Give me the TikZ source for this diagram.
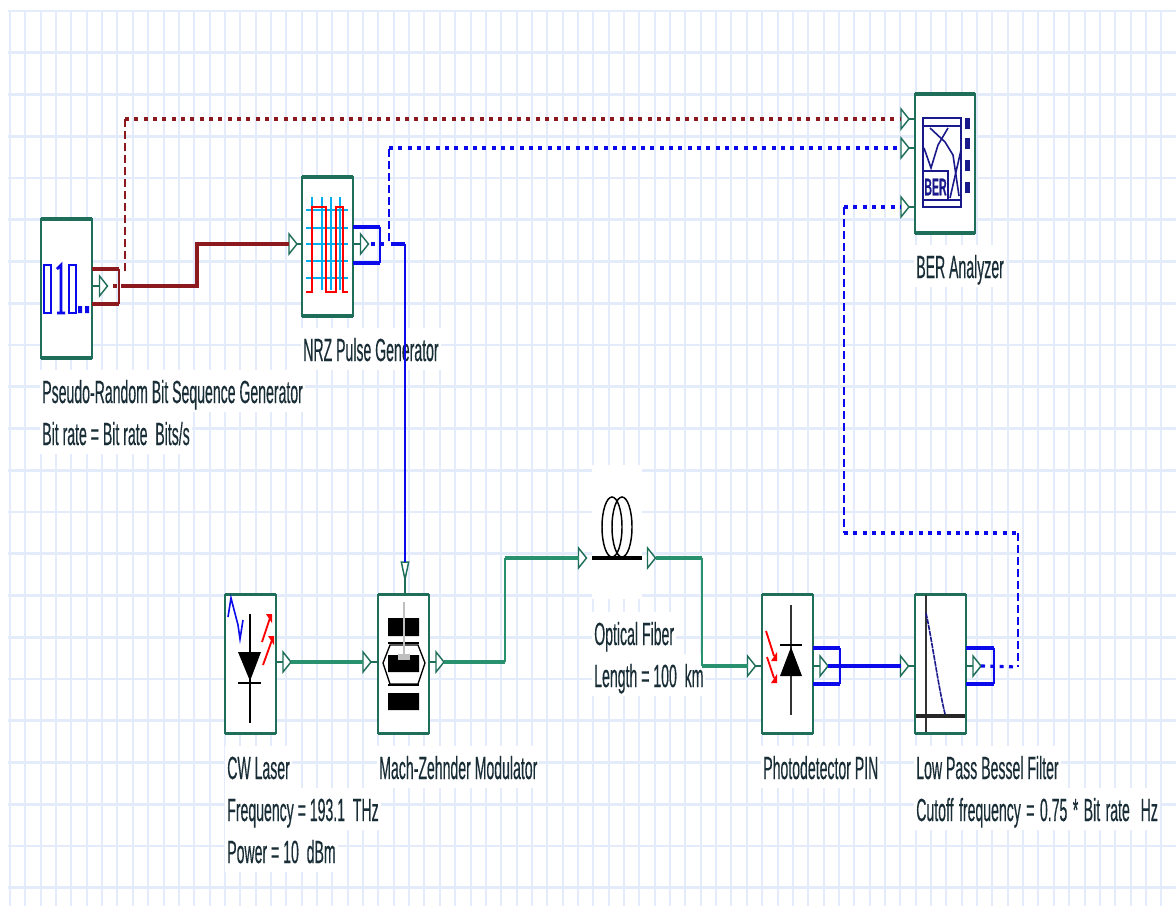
\documentclass[tikz,border=0pt]{standalone}
\usepackage{fontspec}
\usetikzlibrary{shapes.geometric}
\newfontfamily\labelfont[FakeStretch=0.44, FakeBold=0.3]{Liberation Sans}
\definecolor{gridcol}{RGB}{228, 236, 252}
\definecolor{boxcol}{RGB}{30, 110, 90}
\definecolor{optcol}{RGB}{40, 145, 110}
\definecolor{binarycol}{RGB}{140, 25, 30}
\definecolor{elcol}{RGB}{10, 10, 235}
\definecolor{navycol}{RGB}{25, 25, 140}
\definecolor{textcol}{RGB}{25, 45, 55}
\tikzset{
  gridline/.style = {draw=gridcol, line width=1.5pt},
  gridrow/.style  = {draw=gridcol, line width=2.2pt},
  blk/.style      = {draw=boxcol, fill=white, line width=1.3pt, inner sep=0pt,
                     outer sep=0pt, minimum width=38.25pt, minimum height=104.25pt},
  bigblk/.style   = {blk, minimum width=45pt},
  edge/.style     = {draw=boxcol, line width=2.6pt},
  lbl/.style      = {anchor=base west, fill=white, inner xsep=1.5pt, inner ysep=0pt,
                     text height=25pt, text depth=7pt,
                     text=textcol, font=\fontsize{24}{26}\labelfont},
  port/.style     = {draw=boxcol, fill=white, line width=1.1pt, inner sep=0pt, outer sep=0pt,
                     isosceles triangle, isosceles triangle stretches,
                     minimum width=15pt, minimum height=6pt},
  portdown/.style = {port, shape border rotate=270, minimum width=5.5pt, minimum height=13pt},
  stub/.style     = {draw=boxcol, line width=1.4pt},
  optwire/.style  = {draw=optcol, line width=2.4pt},
  optthin/.style  = {draw=optcol, line width=1.5pt},
  binwire/.style  = {draw=binarycol, line width=2.4pt},
  elwire/.style   = {draw=elcol, line width=2.4pt},
  elthin/.style   = {draw=elcol, line width=1.5pt},
  jackrun/.style  = {line width=2.6pt},
  jackside/.style = {line width=1.7pt},
  % monitor lines are dotted along x and dashed along y
  dotrun/.style   = {line width=2.4pt, dash pattern=on 3pt off 4pt},
  dashrun/.style  = {line width=1.4pt, dash pattern=on 6pt off 3pt},
  icon/.style     = {line width=1.9pt},
}

\begin{document}
\begin{tikzpicture}[x=0.75pt, y=-0.75pt]
  \useasboundingbox (0,0) rectangle (1176,906);

  %% ---------------- worksheet grid ----------------
  \foreach \k in {0,...,75}
    \draw[gridline] ({10+15.35*\k},10) -- ({10+15.35*\k},906);
  \foreach \k in {0,...,21}
    \draw[gridrow] (8,{11+41.75*\k}) -- (1176,{11+41.75*\k});

  %% ---------------- labels ----------------
  \node[lbl] (prbsname) at (40,403) {Pseudo-Random Bit Sequence Generator};
  \node[lbl] (prbsrate) at (40,445) {Bit rate = Bit rate~~Bits/s};
  \node[lbl] (nrzname) at (301,361) {NRZ Pulse Generator};
  \node[lbl] (bername) at (914,278) {BER Analyzer};
  \node[lbl] (cwname) at (225,779) {CW Laser};
  \node[lbl] (cwfreq) at (225,821) {Frequency = 193.1~~THz};
  \node[lbl] (cwpower) at (225,863) {Power = 10~~dBm};
  \node[lbl] (mzname) at (377,779) {Mach-Zehnder Modulator};
  \node[lbl] (fibername) at (592,645) {Optical Fiber};
  \node[lbl] (fiberlen) at (592,687) {Length = 100~~km};
  \node[lbl] (pinname) at (761,779) {Photodetector PIN};
  \node[lbl] (lpfname) at (914,779) {Low Pass Bessel Filter};
  \node[lbl] (lpfcut) at (914,821) {\spaceskip=0.17em Cutoff frequency = 0.75 * Bit rate~~Hz};

  %% ---------------- components ----------------
  \node[blk] (prbs) at (66.5,288.5) {};
  \node[blk] (nrz) at (327.5,246.5) {};
  \node[bigblk] (ber) at (945,163.5) {};
  \node[blk] (cw) at (250.5,664) {};
  \node[blk] (mz) at (403.5,664) {};
  \node[blk] (pin) at (787.5,664) {};
  \node[blk] (lpf) at (940.5,664) {};
  \node[fill=white, inner sep=0pt, minimum width=37.5pt, minimum height=101pt] (fiber) at (617,532) {};
  \foreach \n in {prbs,nrz,ber,cw,mz,pin,lpf} {
    \draw[edge] (\n.north west) -- (\n.north east);
    \draw[edge] (\n.south west) -- (\n.south east);
  }

  %% ---------------- icons ----------------
  % bit sequence
  \draw[elcol, icon] (44,265) rectangle (51,313);
  \draw[elcol, icon] (57,269) -- (61,265) -- (61,313) (57,313) -- (65,313);
  \draw[elcol, icon] (69,265) rectangle (76,313);
  \fill[elcol] (78,306) rectangle (82,313) (85,306) rectangle (89,313);
  % pulse
  \foreach \y in {210,228,244,261,278}
    \draw[cyan, line width=2pt] (306,\y) -- (348,\y);
  \foreach \x in {312,322,331,340}
    \draw[cyan, line width=2pt] (\x,197) -- (\x,290);
  \draw[red, line width=2.2pt] (306,292) -- (312,292) -- (312,207) -- (326,207)
    -- (326,292) -- (336,292) -- (336,207) -- (343,207) -- (343,292) -- (348,292);
  % eye diagram
  \draw[navycol, icon] (923,118) rectangle (961,207);
  \draw[navycol, icon] (923,126) -- (961,126) (923,200) -- (961,200);
  \draw[navycol, line width=1.2pt] (924,148) -- (931,168) -- (938,145) -- (948,128);
  \draw[navycol, line width=1.2pt] (930,128) -- (945,142) -- (953,155) -- (959,196);
  \draw[navycol, line width=1.2pt] (961,150) -- (950,198);
  \draw[navycol, fill=white, icon] (923,171) -- (948,171) -- (948,200) -- (923,200) -- cycle;
  \node[inner sep=0pt, text=navycol, font=\fontsize{18}{18}\labelfont\bfseries] (bertext) at (935.5,187) {BER};
  \foreach \y in {118,138,160,182}
    \fill[navycol] (965,\y) rectangle (970,{\y+11});
  % laser
  \draw[elcol, line width=1.2pt] (228,617) -- (231,598) -- (238,625) -- (240,639) -- (243,620);
  \draw[black, line width=1pt] (250,614) -- (250,723);
  \fill[black] (238,652) -- (261,652) -- (250,681) -- cycle;
  \draw[black, line width=2pt] (238,683) -- (261,683);
  \draw[red, line width=1.4pt] (262,642) -- (270,618);
  \fill[red] (266,614) -- (272,614) -- (272,623) -- cycle;
  \draw[red, line width=1.4pt] (263,665) -- (272,640);
  \fill[red] (268,636) -- (274,636) -- (274,645) -- cycle;
  % modulator
  \fill[black] (388,618) rectangle (419,636) (388,655) rectangle (419,672) (388,693) rectangle (419,710);
  \draw[black, line width=1pt] (383,663) -- (390,645) -- (418,645) -- (425,663) -- (418,684) -- (390,684) -- cycle;
  \draw[black, line width=1.4pt] (388,643) -- (419,643) (388,685) -- (419,685);
  \draw[black!25, line width=2pt] (404,602) -- (404,658);
  \fill[black!25] (398,654) rectangle (410,660);
  % fiber spool
  \draw[black, line width=1.1pt] (612,527) ellipse (10 and 30);
  \draw[black, line width=1.1pt] (622,527) ellipse (10 and 30);
  \draw[black, line width=2.4pt] (592,558) -- (642,558);
  % photodiode
  \draw[black!80, line width=1pt] (791,605) -- (791,715);
  \fill[black] (791,647) -- (780,676) -- (802,676) -- cycle;
  \draw[black, line width=2pt] (780,645) -- (802,645);
  \draw[red, line width=1.4pt] (766,631) -- (774,656);
  \fill[red] (777,652) -- (777,661) -- (771,661) -- cycle;
  \draw[red, line width=1.4pt] (767,657) -- (774,678);
  \fill[red] (777,674) -- (777,683) -- (771,683) -- cycle;
  % filter response
  \draw[black!80, line width=1pt] (926,595) -- (926,732);
  \draw[black!85, line width=2.4pt] (916,716) -- (965,716);
  \draw[navycol, line width=1.2pt, dash pattern=on 4pt off 0.6pt] (926,613) .. controls (932,640) and (938,685) .. (945,714);

  %% ---------------- ports ----------------
  \node[port] (prbsout) at (103,286) {};
  \node[port] (nrzin) at (292.5,244) {};
  \node[port] (nrzout) at (364,244) {};
  \node[port] (berbin) at (904.5,119) {};
  \node[port] (berref) at (904.5,148) {};
  \node[port] (bersig) at (904.5,207) {};
  \node[port] (cwout) at (286.5,662) {};
  \node[port] (mzin) at (366.5,662) {};
  \node[portdown] (mzrf) at (405,565) {};
  \node[port] (mzout) at (439.5,662) {};
  \node[port] (fiberin) at (582,558) {};
  \node[port] (fiberout) at (651,558) {};
  \node[port] (pinin) at (751,666) {};
  \node[port] (pinout) at (823.5,666) {};
  \node[port] (lpfin) at (904,666) {};
  \node[port] (lpfout) at (976.5,666) {};

  \draw[stub] (prbs.east |- prbsout) -- (prbsout.west);
  \draw[stub] (nrzin.east) -- (nrz.west |- nrzin);
  \draw[stub] (nrz.east |- nrzout) -- (nrzout.west);
  \draw[stub] (berbin.east) -- (ber.west |- berbin);
  \draw[stub] (berref.east) -- (ber.west |- berref);
  \draw[stub] (bersig.east) -- (ber.west |- bersig);
  \draw[stub] (cw.east |- cwout) -- (cwout.west);
  \draw[stub] (mzin.east) -- (mz.west |- mzin);
  \draw[stub] (mzrf.south) -- (mzrf.south |- mz.north);
  \draw[stub] (mz.east |- mzout) -- (mzout.west);
  \draw[stub] (pinin.east) -- (pin.west |- pinin);
  \draw[stub] (pin.east |- pinout) -- (pinout.west);
  \draw[stub] (lpfin.east) -- (lpf.west |- lpfin);
  \draw[stub] (lpf.east |- lpfout) -- (lpfout.west);

  %% ---------------- output jacks ----------------
  \foreach \n/\xr/\yt/\yb/\c in {prbs/119/269/304/binarycol, nrz/380/227/263/elcol,
                                 pin/840/648/684/elcol, lpf/994/648/684/elcol} {
    \draw[\c, jackrun] (\n.east |- 0,\yt) -- (\xr,\yt);
    \draw[\c, jackrun] (\n.east |- 0,\yb) -- (\xr,\yb);
    \draw[\c, jackside] (\xr,\yt) -- (\xr,\yb);
  }

  %% ---------------- named bends ----------------
  \coordinate (prbsjack) at (121,286);
  \coordinate (prbsbend) at (197,265);
  \coordinate (nrzjack) at (391,244);
  \coordinate (nrzdrop) at (405,244);
  \coordinate (mzbend) at (505,662);
  \coordinate (fiberbend) at (702,558);
  \coordinate (pinbend) at (702,666);
  \coordinate (binrise) at (125,119);
  \coordinate (refrise) at (389,148);
  \coordinate (sigtop) at (844,207);
  \coordinate (sigmid) at (844,533);
  \coordinate (sigright) at (1018,533);
  \coordinate (sigdrop) at (1018,667);

  %% ---------------- signal wires ----------------
  \draw[binwire] (prbsjack) -| (prbsbend) |- (nrzin.west);
  \draw[elwire] (nrzjack) -- (nrzdrop);
  \draw[elthin] (nrzdrop) -- (mzrf.north);
  \draw[optwire] (cwout.east) -- (mzin.west);
  \draw[optwire] (mzout.east) -- (mzbend);
  \draw[optthin] (mzbend) -- (mzbend |- fiberin);
  \draw[optwire] (mzbend |- fiberin) -- (fiberin.west);
  \draw[optwire] (fiberout.east) -- (fiberbend);
  \draw[optthin] (fiberbend) -- (pinbend);
  \draw[optwire] (pinbend) -- (pinin.west);
  \draw[elwire] (pinout.east) -- (lpfin.west);

  %% ---------------- monitor lines ----------------
  \draw[binarycol, dashrun] (125,271) -- (binrise);
  \draw[binarycol, dotrun] (binrise) -- (berbin.west);
  \draw[elcol, dashrun] (389,241) -- (refrise);
  \draw[elcol, dotrun] (refrise) -- (berref.west);
  \draw[elcol, dotrun] (sigtop) -- (bersig.west);
  \draw[elcol, dashrun] (sigtop) -- (sigmid);
  \draw[elcol, dotrun] (sigmid) -- (sigright);
  \draw[elcol, dashrun] (sigright) -- (sigdrop);
  \draw[elcol, dotrun] (lpfout.east) -- (sigdrop);
  \draw[binarycol, dotrun] (113,286) -- (118,286);
  \draw[elcol, dotrun] (371,244) -- (386,244);

\end{tikzpicture}
\end{document}
